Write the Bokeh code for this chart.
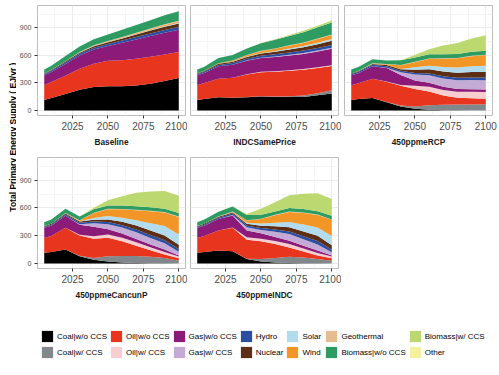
import math
from bokeh.plotting import figure
from bokeh.models import ColumnDataSource, Range1d, FixedTicker, Label, Legend, LegendItem, Spacer
from bokeh.layouts import row, column
from bokeh.embed import file_html
from bokeh.resources import INLINE

years = [2005, 2010, 2020, 2030, 2040, 2050, 2060, 2070, 2080, 2090, 2100]

categories = ["Coal|w/o CCS", "Coal|w/ CCS", "Oil|w/o CCS", "Oil|w/ CCS",
              "Gas|w/o CCS", "Gas|w/ CCS", "Hydro", "Nuclear", "Solar", "Wind",
              "Geothermal", "Biomass|w/o CCS", "Biomass|w/ CCS", "Other"]

colors = ["#000000", "#80888c", "#e8351d", "#f8cdd0", "#8c1a78", "#c3abd6",
          "#2b4ea3", "#5c2e16", "#b2dced", "#f29727", "#e6bc8f", "#2e9b62",
          "#bcd870", "#f5f0a0"]

scenario_names = ["Baseline", "INDCSamePrice", "450ppmeRCP", "450ppmeCancunP", "450ppmeINDC"]

baseline = {
    "Coal|w/o CCS":    [115, 135, 180, 225, 255, 263, 265, 272, 292, 322, 355],
    "Coal|w/ CCS":     [0, 0, 0, 0, 0, 0, 0, 0, 0, 0, 0],
    "Oil|w/o CCS":     [160, 175, 200, 230, 255, 278, 283, 292, 293, 288, 282],
    "Oil|w/ CCS":      [0, 0, 0, 0, 0, 0, 0, 0, 0, 0, 0],
    "Gas|w/o CCS":     [110, 110, 128, 145, 155, 162, 190, 210, 226, 238, 242],
    "Gas|w/ CCS":      [0, 0, 0, 0, 0, 0, 0, 0, 0, 0, 0],
    "Hydro":           [10, 12, 15, 18, 20, 22, 24, 26, 28, 30, 30],
    "Nuclear":         [8, 9, 10, 12, 15, 18, 22, 28, 32, 36, 40],
    "Solar":           [0, 0, 1, 2, 3, 4, 5, 6, 7, 8, 8],
    "Wind":            [0, 1, 2, 3, 4, 5, 6, 7, 8, 9, 10],
    "Geothermal":      [1, 1, 2, 3, 4, 5, 6, 7, 8, 9, 10],
    "Biomass|w/o CCS": [42, 45, 55, 60, 66, 72, 78, 84, 90, 97, 105],
    "Biomass|w/ CCS":  [0, 0, 0, 0, 0, 0, 0, 0, 0, 0, 0],
    "Other":           [0, 0, 0, 0, 0, 0, 0, 0, 0, 0, 0],
}

indc_same_price = {
    "Coal|w/o CCS":    [115, 125, 145, 138, 145, 152, 146, 146, 148, 165, 185],
    "Coal|w/ CCS":     [0, 0, 0, 0, 2, 4, 7, 10, 15, 24, 35],
    "Oil|w/o CCS":     [160, 175, 200, 218, 245, 262, 270, 278, 282, 275, 265],
    "Oil|w/ CCS":      [0, 0, 1, 2, 3, 4, 5, 6, 7, 8, 8],
    "Gas|w/o CCS":     [110, 110, 135, 140, 148, 150, 155, 160, 165, 172, 180],
    "Gas|w/ CCS":      [0, 0, 1, 2, 3, 4, 6, 8, 9, 10, 12],
    "Hydro":           [10, 12, 15, 17, 19, 21, 23, 25, 27, 28, 30],
    "Nuclear":         [8, 9, 12, 15, 19, 23, 28, 33, 37, 41, 45],
    "Solar":           [0, 0, 1, 3, 5, 7, 9, 11, 13, 16, 18],
    "Wind":            [0, 1, 4, 8, 13, 19, 24, 29, 34, 40, 45],
    "Geothermal":      [1, 1, 2, 3, 3, 4, 4, 5, 5, 6, 6],
    "Biomass|w/o CCS": [42, 45, 55, 60, 70, 82, 93, 102, 112, 122, 130],
    "Biomass|w/ CCS":  [0, 0, 0, 0, 2, 4, 7, 10, 14, 18, 22],
    "Other":           [0, 0, 0, 0, 0, 0, 0, 0, 0, 0, 0],
}

rcp450 = {
    "Coal|w/o CCS":    [115, 125, 135, 90, 44, 18, 8, 4, 2, 1, 1],
    "Coal|w/ CCS":     [0, 0, 0, 4, 11, 26, 50, 60, 63, 65, 66],
    "Oil|w/o CCS":     [160, 172, 212, 220, 215, 190, 150, 100, 75, 68, 62],
    "Oil|w/ CCS":      [0, 0, 0, 2, 8, 37, 50, 60, 65, 70, 73],
    "Gas|w/o CCS":     [110, 110, 135, 146, 110, 55, 45, 35, 30, 28, 26],
    "Gas|w/ CCS":      [0, 0, 1, 5, 29, 66, 80, 90, 95, 100, 102],
    "Hydro":           [10, 12, 15, 16, 17, 18, 21, 24, 26, 28, 29],
    "Nuclear":         [8, 9, 10, 12, 15, 33, 45, 52, 56, 60, 62],
    "Solar":           [0, 0, 1, 2, 4, 29, 40, 50, 57, 62, 66],
    "Wind":            [0, 1, 3, 8, 40, 55, 75, 90, 100, 110, 117],
    "Geothermal":      [1, 1, 2, 3, 3, 4, 4, 4, 4, 4, 4],
    "Biomass|w/o CCS": [42, 45, 44, 37, 51, 48, 45, 44, 44, 44, 44],
    "Biomass|w/ CCS":  [0, 0, 0, 0, 0, 26, 55, 95, 120, 145, 168],
    "Other":           [0, 0, 0, 0, 0, 0, 0, 0, 0, 0, 0],
}

cancun450 = {
    "Coal|w/o CCS":    [115, 125, 150, 77, 40, 22, 10, 4, 2, 1, 0],
    "Coal|w/ CCS":     [0, 0, 0, 5, 18, 55, 70, 77, 70, 58, 30],
    "Oil|w/o CCS":     [160, 172, 237, 219, 208, 200, 160, 110, 70, 37, 25],
    "Oil|w/ CCS":      [0, 0, 0, 8, 29, 37, 38, 37, 33, 29, 20],
    "Gas|w/o CCS":     [110, 110, 128, 110, 102, 55, 45, 37, 30, 26, 12],
    "Gas|w/ CCS":      [0, 0, 0, 5, 37, 55, 65, 73, 70, 66, 40],
    "Hydro":           [10, 12, 15, 16, 20, 23, 26, 29, 32, 35, 30],
    "Nuclear":         [8, 9, 10, 12, 18, 29, 36, 44, 48, 51, 45],
    "Solar":           [0, 0, 1, 3, 18, 37, 45, 55, 80, 102, 110],
    "Wind":            [0, 1, 3, 10, 55, 73, 90, 110, 130, 146, 190],
    "Geothermal":      [1, 1, 2, 3, 3, 4, 4, 4, 4, 4, 4],
    "Biomass|w/o CCS": [42, 45, 44, 40, 37, 37, 37, 37, 37, 37, 40],
    "Biomass|w/ CCS":  [0, 0, 0, 0, 18, 55, 100, 146, 170, 190, 185],
    "Other":           [0, 0, 0, 0, 0, 0, 0, 0, 0, 0, 0],
}

indc450 = {
    "Coal|w/o CCS":    [115, 125, 140, 131, 47, 22, 10, 4, 2, 1, 0],
    "Coal|w/ CCS":     [0, 0, 0, 0, 5, 26, 50, 69, 62, 47, 30],
    "Oil|w/o CCS":     [160, 172, 215, 255, 204, 193, 150, 99, 65, 37, 25],
    "Oil|w/ CCS":      [0, 0, 0, 2, 26, 26, 32, 37, 33, 29, 20],
    "Gas|w/o CCS":     [110, 110, 125, 131, 73, 58, 45, 37, 30, 26, 12],
    "Gas|w/ CCS":      [0, 0, 1, 5, 37, 37, 55, 73, 70, 66, 35],
    "Hydro":           [10, 12, 14, 15, 18, 22, 24, 26, 32, 37, 30],
    "Nuclear":         [8, 9, 10, 12, 18, 22, 35, 47, 52, 55, 45],
    "Solar":           [0, 0, 1, 2, 11, 26, 40, 55, 75, 91, 100],
    "Wind":            [0, 1, 3, 5, 26, 48, 80, 110, 125, 135, 175],
    "Geothermal":      [1, 1, 2, 3, 3, 3, 4, 4, 4, 4, 4],
    "Biomass|w/o CCS": [42, 45, 47, 55, 55, 42, 37, 37, 37, 37, 40],
    "Biomass|w/ CCS":  [0, 0, 0, 0, 11, 66, 100, 139, 165, 193, 180],
    "Other":           [0, 0, 0, 0, 0, 0, 0, 0, 0, 0, 0],
}

x_ticks = [2025, 2050, 2075, 2100]
x_minor = [2012.5, 2037.5, 2062.5, 2087.5]
y_ticks = [0, 300, 600, 900]
y_minor = [150, 450, 750, 1050]

FONT = "Liberation Sans"
keys = ["c%d" % i for i in range(len(categories))]


def make_source(d):
    data = {"year": years}
    for k, c in zip(keys, categories):
        data[k] = d[c]
    return ColumnDataSource(data)


def panel(name, d, left, right, top, bottom, fh, show_y):
    p = figure(frame_width=148, frame_height=fh,
               min_border_left=left, min_border_right=right,
               min_border_top=top, min_border_bottom=bottom,
               x_range=Range1d(2000.25, 2104.75), y_range=Range1d(-54.5, 1144.5),
               output_backend="svg", toolbar_location=None)
    p.varea_stack(stackers=keys, x="year", color=colors, source=make_source(d))
    p.outline_line_color = "#bdbdbd"
    p.outline_line_width = 1
    p.background_fill_color = "white"
    p.border_fill_color = "white"
    p.xaxis.ticker = FixedTicker(ticks=x_ticks, minor_ticks=x_minor)
    p.yaxis.ticker = FixedTicker(ticks=y_ticks, minor_ticks=y_minor)
    p.xgrid.grid_line_color = "#ebebeb"
    p.ygrid.grid_line_color = "#ebebeb"
    p.xgrid.minor_grid_line_color = "#f5f5f5"
    p.ygrid.minor_grid_line_color = "#f5f5f5"
    for ax in (p.xaxis, p.yaxis):
        ax.axis_line_color = None
        ax.major_tick_line_color = "#333333"
        ax.major_tick_out = 3
        ax.major_tick_in = 0
        ax.minor_tick_line_color = None
        ax.major_label_text_font = FONT
        ax.major_label_text_color = "#4d4d4d"
        ax.major_label_standoff = 2
    p.xaxis.major_label_text_font_size = "10px"
    p.yaxis.major_label_text_font_size = "7px"
    p.xaxis.axis_label = name
    p.xaxis.axis_label_text_font = FONT
    p.xaxis.axis_label_text_font_size = "8.3px"
    p.xaxis.axis_label_text_font_style = "bold"
    p.xaxis.axis_label_text_color = "#1a1a1a"
    p.xaxis.axis_label_standoff = 4
    if not show_y:
        p.yaxis.visible = False
    return p


R1 = dict(top=5, bottom=37, fh=110)
R2 = dict(top=5, bottom=37, fh=111)

pA = panel(scenario_names[0], baseline, 21, 2, show_y=True, **R1)
pB = panel(scenario_names[1], indc_same_price, 3, 3, show_y=False, **R1)
pC = panel(scenario_names[2], rcp450, 3, 7, show_y=False, **R1)
pD = panel(scenario_names[3], cancun450, 21, 2, show_y=True, **R2)
pE = panel(scenario_names[4], indc450, 3, 3, show_y=False, **R2)

title_fig = figure(width=16, height=305, min_border=0,
                   x_range=Range1d(0, 1), y_range=Range1d(0, 1),
                   x_axis_type=None, y_axis_type=None,
                   output_backend="svg", toolbar_location=None)
title_fig.outline_line_color = None
title_fig.grid.visible = False
title_fig.add_layout(Label(x=12, y=305 - 136.6, x_units="screen", y_units="screen",
                           angle=math.pi / 2, text="Total Primary Energy Supply ( EJ/yr )",
                           text_align="center", text_baseline="middle",
                           text_font=FONT, text_font_size="8.5px",
                           text_font_style="bold", text_color="#000000"))

leg_fig = figure(width=499, height=70, min_border=0,
                 x_range=Range1d(0, 1), y_range=Range1d(0, 1),
                 x_axis_type=None, y_axis_type=None,
                 output_backend="svg", toolbar_location=None)
leg_fig.outline_line_color = None
leg_fig.grid.visible = False
leg_renderers = leg_fig.varea_stack(stackers=keys, x="year", color=colors,
                                    source=make_source(baseline))
for r in leg_renderers:
    r.visible = False
legend = Legend(items=[LegendItem(label=c, renderers=[r]) for c, r in zip(categories, leg_renderers)],
                location=(40, 16), orientation="vertical", nrows=2,
                padding=0, margin=0, spacing=2,
                glyph_width=14, glyph_height=14, label_height=14,
                label_standoff=3, label_text_font=FONT, label_text_font_size="8px",
                label_text_color="#000000", border_line_color=None,
                background_fill_alpha=0, inactive_fill_alpha=0)
leg_fig.add_layout(legend)

layout = column(
    row(title_fig, column(row(pA, pB, pC), row(pD, pE, Spacer(width=158, height=153)))),
    leg_fig,
)

open("out.html", "w").write(file_html(layout, INLINE))
